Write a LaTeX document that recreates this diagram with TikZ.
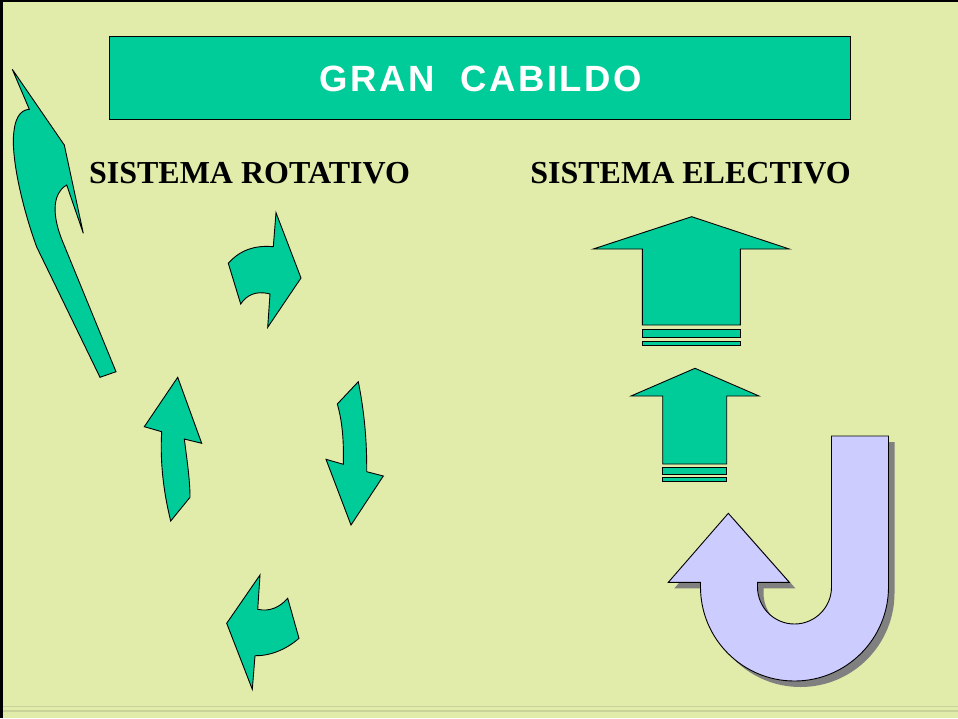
\documentclass[tikz,border=0pt]{standalone}
\usepackage{fontspec}
\setmainfont{Liberation Serif}
\newfontfamily\titlefont[LetterSpace=7]{Liberation Sans Bold}
\definecolor{bgc}{HTML}{E1EBAA}
\definecolor{greenc}{HTML}{00CC99}
\definecolor{lavc}{HTML}{CCCCFF}
\definecolor{shadc}{HTML}{808080}
\definecolor{stripec}{HTML}{C7D398}
\tikzset{
  garrow/.style={fill=greenc, draw=black, line width=0.9pt, line join=miter},
  uarrow/.style={fill=lavc, draw=black, line width=0.9pt},
  uarrowshadow/.style={fill=shadc, draw=none},
  headtext/.style={font=\bfseries\fontsize{32}{36}\selectfont, text=black, inner sep=0pt, anchor=base}
}
\begin{document}
\begin{tikzpicture}[x=1pt,y=1pt]
\useasboundingbox (0,0) rectangle (958,-718);
\fill[bgc] (0,0) rectangle (958,-718);
% frame
\draw[black, line width=3pt] (1.5,0) -- (1.5,-718);
\draw[black, line width=2pt] (0,-1) -- (958,-1);
% bottom stripes
\draw[stripec, line width=1.6pt] (3,-706.5) -- (958,-706.5);
\draw[stripec, line width=1.6pt] (3,-711) -- (958,-711);
% title
\node[fill=greenc, draw=black, line width=0.9pt, minimum width=741pt, minimum height=83pt, inner sep=0pt] (titlebox) at (479.5,-77.5) {};
\node[font=\titlefont\fontsize{36.5}{40}\selectfont, text=white, inner sep=0pt, anchor=base] (title) at (481,-91) {GRAN\ \ CABILDO};
% headings
\node[headtext] (rot) at (249.5,-183.3) {SISTEMA ROTATIVO};
\node[headtext] (ele) at (690.5,-183.3) {SISTEMA ELECTIVO};
% top-left arrow
\draw[garrow] (12.3,-69.3) -- (29.3,-109.3) .. controls (20,-110) and (14,-118) .. (13.3,-140)
  .. controls (13.3,-170) and (25,-215) .. (36.7,-247) -- (100,-377.3) -- (116,-371.7)
  -- (62,-240) .. controls (54,-220) and (50,-195) .. (66.7,-185) -- (83.3,-233.3) -- (64.3,-145) -- cycle;
% rotating arrows
\draw[garrow] (276,-212.7) -- (301,-278) -- (267.7,-327.3) -- (270,-294)
  .. controls (255,-290) and (246,-296) .. (240.7,-304) -- (228.3,-263.3)
  .. controls (240,-250) and (255,-245) .. (273.3,-246.7) -- cycle;
\draw[garrow] (177.7,-377.3) -- (201.7,-443.3) -- (184.3,-439)
  .. controls (187,-460) and (190,-480) .. (190,-497.3) -- (170.7,-521)
  .. controls (163,-490) and (160,-460) .. (161.7,-431.7) -- (144.3,-426.7) -- cycle;
\draw[garrow] (358.3,-381.7) .. controls (364,-410) and (367,-440) .. (366.7,-471.7)
  -- (383.3,-476) -- (351,-525) -- (326,-459.3) -- (343.3,-464.3)
  .. controls (344,-440) and (342,-420) .. (337.3,-404) -- cycle;
\draw[garrow] (260,-575) -- (257.7,-609.3) .. controls (270,-612) and (280,-607) .. (287.7,-598.3)
  -- (299,-638.3) .. controls (288,-648) and (272,-656) .. (255,-655.7)
  -- (252.3,-689.3) -- (226.7,-623.3) -- cycle;
% striped up arrows
\draw[garrow] (691.7,-216.7) -- (789.3,-249) -- (740.3,-249) -- (740.3,-325) -- (642.3,-325) -- (642.3,-249) -- (593.3,-249) -- cycle;
\draw[garrow] (642.3,-329.3) rectangle (740.3,-337.3);
\draw[garrow] (642.3,-341) rectangle (740.3,-345.7);
\draw[garrow] (695,-368.3) -- (759,-396) -- (726.7,-396) -- (726.7,-464) -- (662.7,-464) -- (662.7,-396) -- (631,-396) -- cycle;
\draw[garrow] (662.7,-467.3) rectangle (726.7,-474.3);
\draw[garrow] (662.7,-477.3) rectangle (726.7,-481);
% U-turn arrow
\def\uturnpath{(728.3,-513.3) -- (789.3,-582.3) -- (757.5,-582.3) -- (757.5,-587)
  arc[start angle=180, end angle=360, radius=37] -- (831.5,-436) -- (888.5,-436) -- (888.5,-587)
  arc[start angle=0, end angle=-180, radius=94] -- (700.5,-582.3) -- (668.3,-582.3) -- cycle}
\begin{scope}[shift={(6,-6)}]
\fill[uarrowshadow] \uturnpath;
\end{scope}
\draw[uarrow] \uturnpath;
\end{tikzpicture}
\end{document}
